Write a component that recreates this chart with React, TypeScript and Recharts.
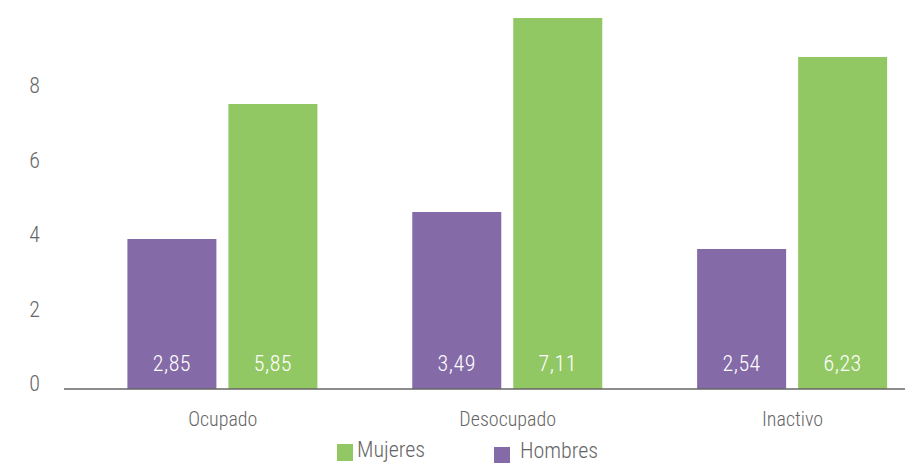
import React from "react";
import { BarChart, Bar, XAxis, YAxis, Legend, LabelList } from "recharts";

const categories = ["Ocupado", "Desocupado", "Inactivo"];
const hombresBar = [4.03, 4.75, 3.76];
const mujeresBar = [7.65, 9.96, 8.91];
const hombresLabel = ["2,85", "3,49", "2,54"];
const mujeresLabel = ["5,85", "7,11", "6,23"];
const yTicks = [0, 2, 4, 6, 8];

const PURPLE = "#856AA8";
const GREEN = "#92C864";
const GRAY = "#666666";
const FONT = "'Roboto Condensed', 'Liberation Sans Narrow', 'DejaVu Sans Condensed', 'Roboto', sans-serif";

const data = categories.map((c, i) => ({
  name: c,
  hombres: hombresBar[i],
  mujeres: mujeresBar[i],
}));

const makeLabel = (labels: string[]) => (props: any) => {
  const { x, y, width, height, index } = props;
  return (
    <text
      x={x + width / 2}
      y={y + height - 18}
      textAnchor="middle"
      fill="#ffffff"
      fontSize={22}
      fontWeight={300}
      letterSpacing={0.5}
      fontFamily={FONT}
      style={{ fontStretch: "condensed" }}
    >
      {labels[index]}
    </text>
  );
};

const XTick = (props: any) => {
  const { x, payload } = props;
  return (
    <text x={x} y={418} textAnchor="middle" fill={GRAY} fontSize={20} fontWeight={300} fontFamily={FONT} style={{ fontStretch: "condensed" }}>
      {payload.value}
    </text>
  );
};

const YTick = (props: any) => {
  const { y, payload } = props;
  return (
    <text x={32} y={y + 2} textAnchor="end" fill={GRAY} fontSize={22} fontWeight={300} fontFamily={FONT} style={{ fontStretch: "condensed" }}>
      {payload.value}
    </text>
  );
};

const LegendContent = () => (
  <div style={{ position: "relative", width: 905, height: 28, fontFamily: FONT, fontStretch: "condensed", fontWeight: 300, color: GRAY, fontSize: 22 }}>
    <div style={{ position: "absolute", left: 329, top: 8, width: 16, height: 17, background: GREEN }} />
    <div style={{ position: "absolute", left: 349, top: 1, lineHeight: "26px" }}>Mujeres</div>
    <div style={{ position: "absolute", left: 486, top: 11, width: 16, height: 16, background: PURPLE }} />
    <div style={{ position: "absolute", left: 512, top: 2, lineHeight: "26px" }}>Hombres</div>
  </div>
);

export default function App() {
  return (
    <div style={{ width: 905, height: 456, overflow: "hidden", position: "relative" }}>
      <BarChart
        width={927}
        height={456}
        data={data}
        margin={{ top: 8.5, right: 0, bottom: 45, left: 0 }}
        barGap={12}
        barSize={89}
      >
        <XAxis
          dataKey="name"
          height={30}
          padding={{ left: 16.4, right: 0 }}
          axisLine={{ stroke: GRAY, strokeWidth: 1.5 }}
          tickLine={false}
          tick={<XTick />}
          interval={0}
        />
        <YAxis
          width={56}
          domain={[0, 10]}
          ticks={yTicks}
          axisLine={false}
          tickLine={false}
          tick={<YTick />}
        />
        <Legend
          layout="horizontal"
          verticalAlign="middle"
          align="center"
          wrapperStyle={{ left: 0, top: 428, width: 905, height: 28 }}
          content={<LegendContent />}
        />
        <Bar dataKey="hombres" fill={PURPLE} isAnimationActive={false}>
          <LabelList dataKey="hombres" content={makeLabel(hombresLabel)} />
        </Bar>
        <Bar dataKey="mujeres" fill={GREEN} isAnimationActive={false}>
          <LabelList dataKey="mujeres" content={makeLabel(mujeresLabel)} />
        </Bar>
      </BarChart>
    </div>
  );
}
